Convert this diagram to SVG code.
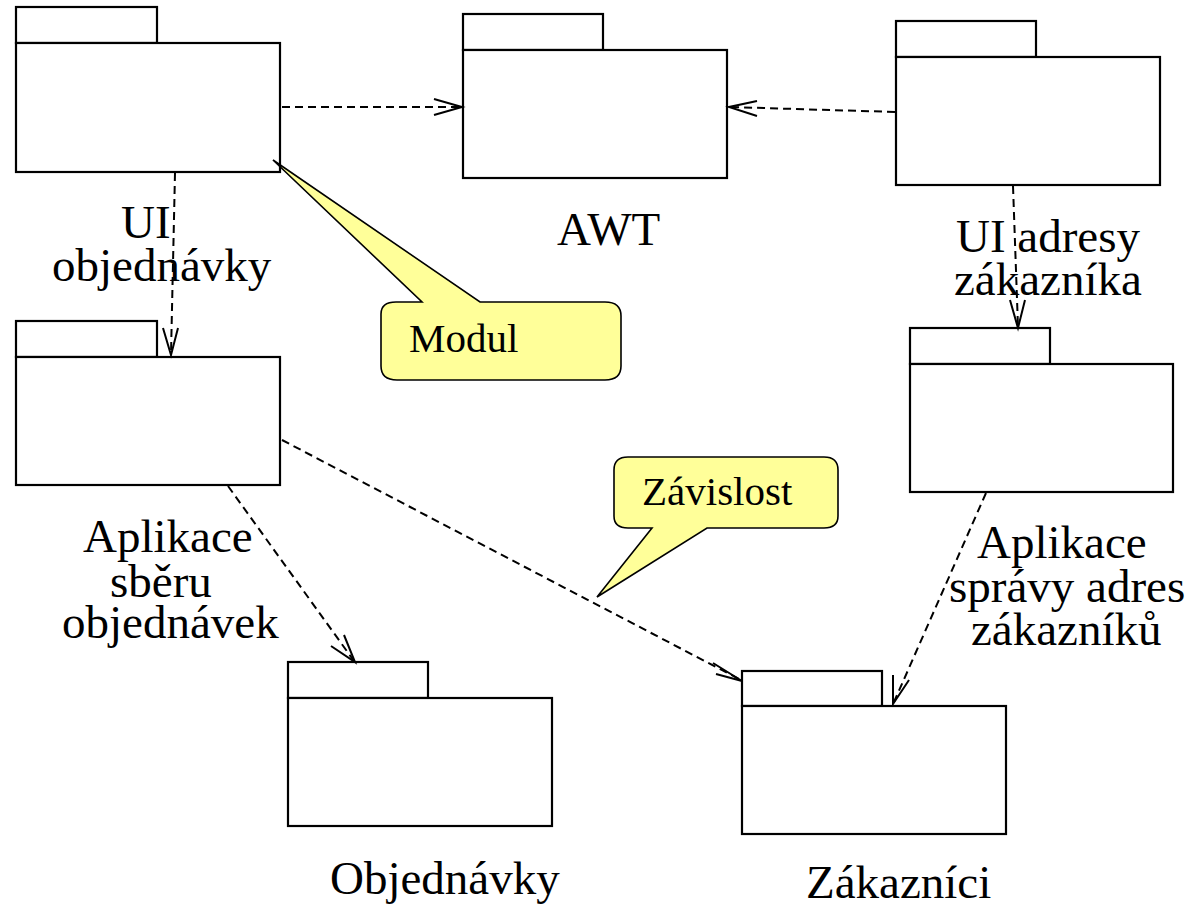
<svg xmlns="http://www.w3.org/2000/svg" width="1191" height="904" viewBox="0 0 1191 904">
<style>
.pk{fill:#fff;stroke:#000;stroke-width:2.2}
.dep{fill:none;stroke:#000;stroke-width:2;stroke-dasharray:8 5}
.ah{fill:none;stroke:#000;stroke-width:2}
.lbl{font-family:'Liberation Serif','Times New Roman',serif;font-size:47px;fill:#000}
.note{fill:#ffff99;stroke:#000;stroke-width:1.6}
.nt{font-family:'Liberation Serif','Times New Roman',serif;font-size:41px;fill:#000}
</style>
<rect width="1191" height="904" fill="#fff"/>
<g id="ui-objednavky">
<rect class="pk" x="16" y="7" width="141" height="36"/>
<rect class="pk" x="16" y="43" width="264" height="129"/>
<text class="lbl" x="121" y="238">UI</text>
<text class="lbl" x="52" y="281">objednávky</text>
</g>
<g id="awt">
<rect class="pk" x="463" y="14" width="140" height="36"/>
<rect class="pk" x="463" y="50" width="264" height="128"/>
<text class="lbl" x="557" y="245">AWT</text>
</g>
<g id="ui-adresy">
<rect class="pk" x="896" y="21" width="140" height="36"/>
<rect class="pk" x="896" y="57" width="264" height="128"/>
<text class="lbl" x="956" y="252">UI adresy</text>
<text class="lbl" x="954" y="295">zákazníka</text>
</g>
<g id="aplikace-sberu">
<rect class="pk" x="16" y="321" width="141" height="36"/>
<rect class="pk" x="16" y="357" width="264" height="128"/>
<text class="lbl" x="83" y="552">Aplikace</text>
<text class="lbl" x="110" y="597">sběru</text>
<text class="lbl" x="62" y="638">objednávek</text>
</g>
<g id="aplikace-spravy">
<rect class="pk" x="910" y="328" width="140" height="36"/>
<rect class="pk" x="910" y="364" width="263" height="128"/>
<text class="lbl" x="977" y="558">Aplikace</text>
<text class="lbl" x="949" y="602">správy adres</text>
<text class="lbl" x="971" y="645">zákazníků</text>
</g>
<g id="objednavky">
<rect class="pk" x="288" y="662" width="140" height="36"/>
<rect class="pk" x="288" y="698" width="264" height="128"/>
<text class="lbl" x="330" y="894">Objednávky</text>
</g>
<g id="zakaznici">
<rect class="pk" x="742" y="671" width="140" height="35"/>
<rect class="pk" x="742" y="706" width="264" height="128"/>
<text class="lbl" x="806" y="898">Zákazníci</text>
</g>
<g id="connectors">
<line class="dep" x1="282" y1="107" x2="462" y2="107"/>
<polyline class="ah" points="434,99 462,107 434,115"/>
<line class="dep" x1="895" y1="112" x2="729" y2="107"/>
<polyline class="ah" points="757,101 729,107 757,116"/>
<line class="dep" x1="175" y1="173" x2="171" y2="354"/>
<polyline class="ah" points="163,328 171,355 178,328"/>
<line class="dep" x1="1013" y1="186" x2="1018" y2="327"/>
<polyline class="ah" points="1010,300 1018,328 1025,300"/>
<line class="dep" x1="228" y1="486" x2="354" y2="661"/>
<polyline class="ah" points="331,646 355,662 344,635"/>
<line class="dep" x1="282" y1="440" x2="741" y2="680"/>
<polyline class="ah" points="713,663 742,681 716,674"/>
<line class="dep" x1="986" y1="493" x2="894" y2="702"/>
<polyline class="ah" points="893,675 893,704 909,680"/>
</g>
<g id="note-modul">
<path class="note" d="M273,160 L422,302 L396,302 Q381,302 381,314 L381,366 Q381,380 397,380 L605,380 Q621,380 621,366 L621,316 Q621,302 605,302 L480,302 Z"/>
<text class="nt" x="409" y="352">Modul</text>
</g>
<g id="note-zavislost">
<path class="note" d="M597,597 L652,528 L628,528 Q614,528 614,516 L614,470 Q614,457 628,457 L824,457 Q838,457 838,470 L838,516 Q838,528 824,528 L707,528 Z"/>
<text class="nt" x="642" y="505">Závislost</text>
</g>
</svg>
